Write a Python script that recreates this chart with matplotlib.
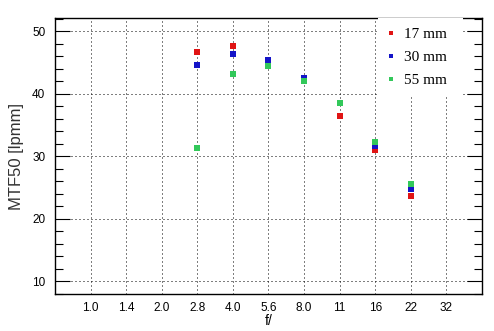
import matplotlib
matplotlib.use('Agg')
import matplotlib.pyplot as plt
from matplotlib.ticker import MultipleLocator

plt.rcParams['font.family'] = ['Liberation Sans', 'DejaVu Sans']

# f-stops along the x axis (evenly spaced categories)
fstops = ['1.0', '1.4', '2.0', '2.8', '4.0', '5.6', '8.0', '11', '16', '22', '32']

# measured apertures per focal length
meas_stops = ['2.8', '4.0', '5.6', '8.0', '11', '16', '22']
mtf_17 = [46.6, 47.6, 45.4, 42.1, 36.4, 31.0, 23.6]
mtf_30 = [44.6, 46.4, 45.4, 42.5, 38.5, 31.7, 24.8]
mtf_55 = [31.3, 43.2, 44.4, 42.0, 38.5, 32.3, 25.6]

series = [
    ('17 mm', mtf_17, '#e01414'),
    ('30 mm', mtf_30, '#1414c8'),
    ('55 mm', mtf_55, '#32c85a'),
]

fig = plt.figure(figsize=(4.94, 3.31), dpi=100)
ax = fig.add_axes([0.1113, 0.1118, 0.8644, 0.8338])

xpos = [fstops.index(s) for s in meas_stops]
for label, vals, col in series:
    ax.plot(xpos, vals, linestyle='none', marker='s', markersize=3.8,
            markeredgewidth=0, color=col, label=label, zorder=3)

ax.set_xlim(-1, len(fstops))
ax.set_ylim(8, 52.1)
ax.set_xticks(range(len(fstops)))
ax.set_xticklabels(fstops)
ax.yaxis.set_major_locator(MultipleLocator(10))
ax.yaxis.set_minor_locator(MultipleLocator(2))

# sparse dotted grid, ticks pointing inward on both sides
ax.grid(True, color='black', linestyle=(0, (1, 3)), linewidth=0.72)
ax.tick_params(axis='x', length=0, pad=6, labelsize=8.5)
ax.tick_params(axis='y', which='major', direction='in', length=10.8,
               width=0.8, right=True, pad=7, labelsize=8.5)
ax.tick_params(axis='y', which='minor', direction='in', length=5.8,
               width=0.8, right=True)
for sp in ax.spines.values():
    sp.set_linewidth(1.0)

ax.set_ylabel('MTF50 [lpmm]', fontsize=12, color='#333333', labelpad=6)
ax.set_xlabel('f/', fontsize=10, labelpad=0)

leg = ax.legend(loc='upper left', bbox_to_anchor=(0.756, 0.0, 0.2, 1.0),
                mode='expand', borderaxespad=0, frameon=True, fancybox=False,
                edgecolor='white', framealpha=1.0, handlelength=0.5,
                handletextpad=0.6, labelspacing=0.62, borderpad=0.6,
                markerscale=0.8, prop={'family': 'Liberation Serif', 'size': 11})
leg.get_frame().set_linewidth(0)

fig.savefig('out.png', dpi=100)
